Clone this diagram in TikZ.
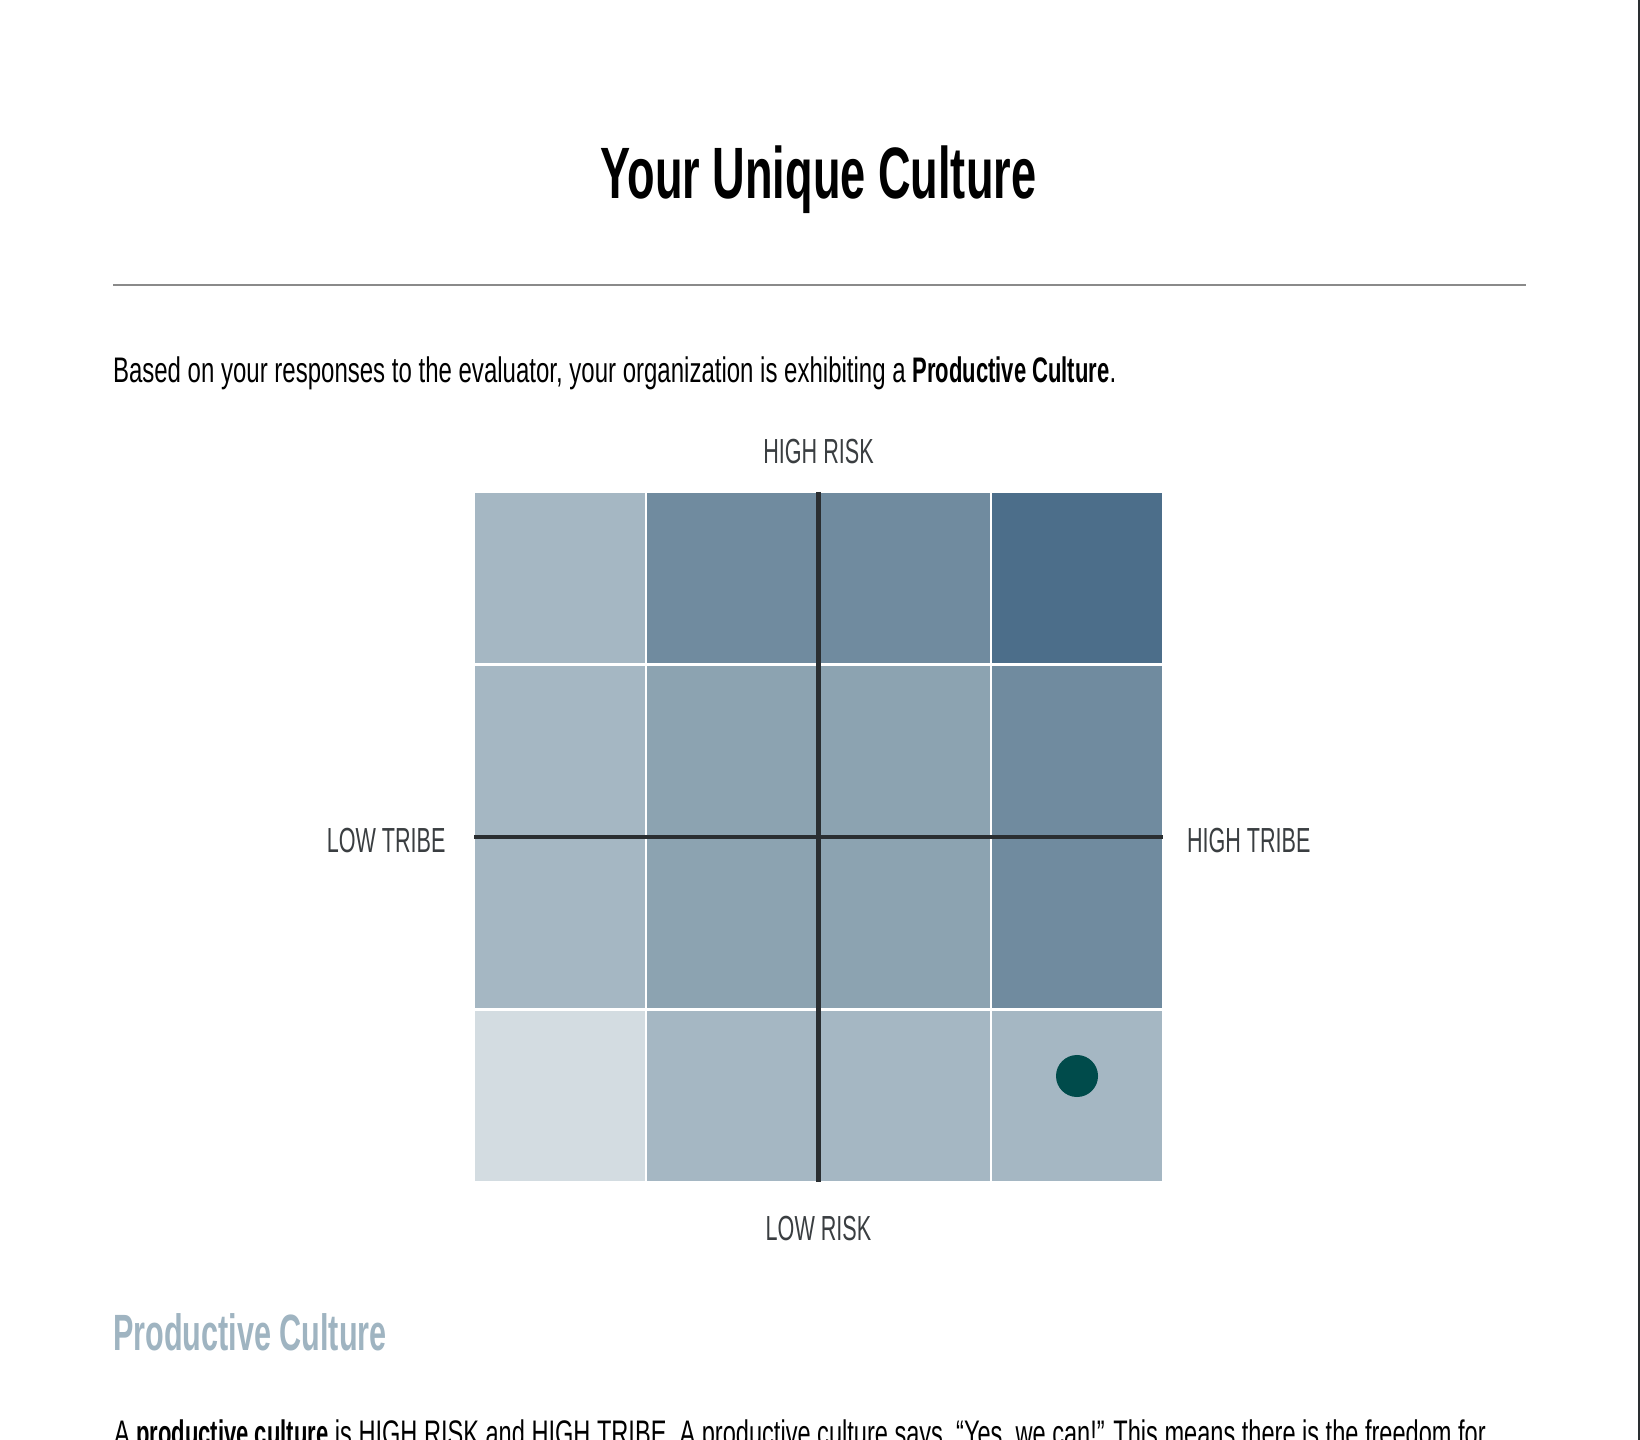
\documentclass[tikz,border=0pt]{standalone}
\usepackage{fontspec}
\setmainfont{Liberation Sans}[FakeStretch=0.62]
\newfontfamily\bodyfont{Liberation Sans}[FakeStretch=0.676]
\newfontfamily\lastfont{Liberation Sans}[FakeStretch=0.664]
\newfontfamily\headfont{Liberation Sans}[FakeStretch=0.60]
\definecolor{cA}{HTML}{A5B7C3}
\definecolor{cB}{HTML}{8CA3B1}
\definecolor{cC}{HTML}{708B9F}
\definecolor{cD}{HTML}{4C6E8A}
\definecolor{cE}{HTML}{D3DCE1}
\definecolor{dotc}{HTML}{004B4B}
\definecolor{axisc}{HTML}{2A2E31}
\definecolor{labc}{HTML}{3A3E41}
\definecolor{headc}{HTML}{9FB4C1}
\definecolor{rulec}{HTML}{8A8A8A}
\newcommand{\bb}[1]{{\rmfamily\bfseries #1}}
\tikzset{
  txt/.style={inner sep=0pt, outer sep=0pt},
  axislab/.style={txt, text=labc, font=\fontsize{9.9pt}{12pt}\selectfont},
  cell/.style={draw=white, line width=0.7pt},
}
\begin{document}
\begin{tikzpicture}[x=0.01cm, y=-0.01cm]
\useasboundingbox (0,0) rectangle (1640,1440);
\clip (0,0) rectangle (1640,1440);
\fill[white] (0,0) rectangle (1640,1440);
% page edge
\draw[axisc, line width=0.6pt] (1638.8,0) -- (1638.8,1440);
% title
\node[txt, anchor=base] (title) at (818.5,198.5) {\fontsize{20.7pt}{24pt}\selectfont\bfseries Your Unique Culture};
\draw[rulec, line width=0.45pt] (113,285) -- (1526,285);
\node[txt, anchor=base west] (intro) at (113,383) {\fontsize{10.1pt}{12pt}\selectfont\bodyfont Based on your responses to the evaluator, your organization is exhibiting a \bb{Productive Culture}.};
% grid
\foreach \r/\cols in {0/{cA,cC,cC,cD},1/{cA,cB,cB,cC},2/{cA,cB,cB,cC},3/{cE,cA,cA,cA}}{
  \foreach \c [count=\i from 0] in \cols {
    \fill[\c, cell] ({474+\i*172.25},{492+\r*172.5}) rectangle ++(172.25,172.5);
  }
}
\draw[axisc, line width=1.15pt] (818.5,492) -- (818.5,1182);
\draw[axisc, line width=1.15pt] (474,837) -- (1163,837);
\node[circle, fill=dotc, minimum size=0.42cm, inner sep=0pt] (dot) at (1077,1076) {};
% axis labels
\node[axislab, anchor=base] (hr) at (818.5,464) {HIGH RISK};
\node[axislab, anchor=base] (lr) at (818.5,1240) {LOW RISK};
\node[axislab, anchor=base east] (lt) at (445.5,852) {LOW TRIBE};
\node[axislab, anchor=base west] (ht) at (1187,852) {HIGH TRIBE};
% heading
\node[txt, anchor=base west, text=headc] (head) at (113,1350) {\fontsize{14.5pt}{17pt}\selectfont\headfont\bfseries Productive Culture};
\node[txt, anchor=base west] (body) at (114,1445) {\fontsize{10.1pt}{12pt}\selectfont\lastfont A \bb{productive culture} is HIGH RISK and HIGH TRIBE. A productive culture says, “Yes, we can!” This means there is the freedom for};
\end{tikzpicture}
\end{document}
